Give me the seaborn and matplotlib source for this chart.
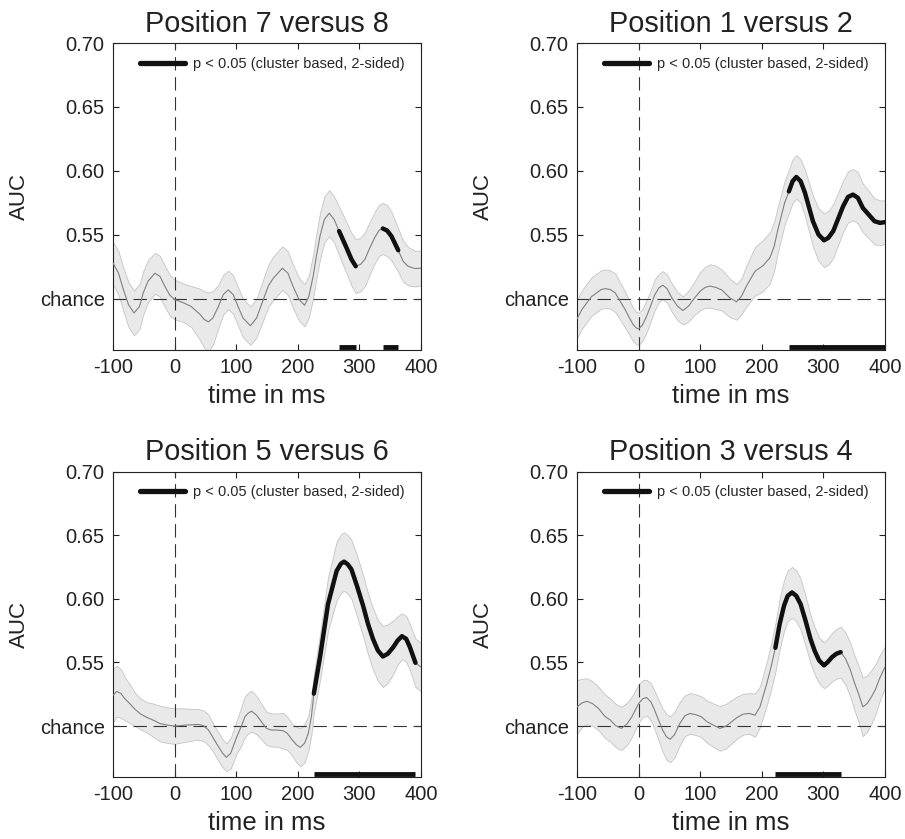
import numpy as np
import seaborn as sns
import matplotlib.pyplot as plt
from matplotlib.lines import Line2D

# ---- data ----
titles = ["Position 7 versus 8", "Position 1 versus 2",
          "Position 5 versus 6", "Position 3 versus 4"]

t_78 = [-100, -91, -83, -75, -66, -57, -51, -43, -32, -24, -16, -8, 0, 14, 27, 41, 48, 55,
        62, 71, 79, 87, 95, 103, 111, 123, 133, 144, 152, 160, 175, 184, 192, 202, 211,
        218, 225, 230, 236, 243, 251, 259, 267, 279, 287, 294, 302, 309, 317, 325, 332,
        338, 345, 352, 363, 371, 379, 390, 400]
auc_78 = [.528, .520, .507, .4956, .489, .494, .5047, .514, .520, .5177, .510, .503, .4995,
          .497, .494, .488, .4839, .482, .485, .494, .5034, .507, .5034, .494, .485, .479,
          .485, .4995, .510, .516, .524, .520, .510, .4995, .495, .502, .518, .533, .549,
          .562, .567, .562, .553, .540, .531, .5255, .527, .531, .540, .548, .5536, .555,
          .5534, .549, .538, .5294, .5255, .5237, .524]
sem_78 = [.0165, .017, .017, .0175, .0175, .0175, .017, .0165, .016, .016, .016, .016, .0155,
          .015, .016, .020, .022, .023, .021, .017, .0155, .015, .015, .015, .015, .015,
          .015, .016, .0165, .017, .017, .017, .017, .0165, .0165, .0165, .017, .0175, .018,
          .018, .018, .018, .019, .02, .0205, .021, .021, .021, .0205, .02, .02, .02, .02,
          .019, .017, .016, .015, .014, .0135]
sig_78 = [(267, 294), (338, 363)]

t_12 = [-100, -92, -84, -76, -68, -61, -54, -46, -38, -30, -22, -15, -9, -4, 0, 6, 13, 20,
        26, 33, 39, 46, 54, 63, 72, 81, 91, 100, 108, 116, 125, 135, 148, 159, 167, 175,
        189, 202, 213, 220, 226, 237, 244, 250, 256, 263, 270, 283, 292, 301, 308, 316,
        332, 340, 348, 356, 364, 383, 392, 400]
auc_12 = [.4844, .4917, .497, .502, .5047, .5073, .508, .5073, .5047, .4982, .4917, .4852,
          .480, .4773, .4766, .4794, .4865, .495, .503, .5086, .5107, .5081, .5008, .4943,
          .4909, .4943, .5008, .506, .509, .510, .509, .507, .5008, .4977, .502, .510,
          .5216, .526, .532, .541, .554, .575, .584, .592, .5953, .592, .583, .5607, .5503,
          .5458, .5477, .553, .5724, .5797, .5815, .579, .5711, .5607, .5594, .560]
sem_12 = [.015, .015, .015, .015, .015, .015, .015, .015, .015, .0145, .014, .0135, .013,
          .0125, .0125, .0125, .0125, .012, .012, .011, .011, .011, .011, .011, .011, .012,
          .013, .015, .016, .017, .017, .016, .015, .014, .014, .016, .019, .02, .02, .019,
          .018, .017, .017, .017, .017, .017, .018, .02, .0205, .021, .021, .021, .02, .02,
          .02, .02, .019, .018, .0175, .017]
sig_12 = [(244, 400)]

t_56 = [-100, -94, -87, -81, -72, -64, -55, -45, -35, -24, -12, 0, 19, 38, 47, 55, 63, 71,
        78, 84, 91, 101, 108, 114, 120, 125, 133, 141, 149, 157, 166, 176, 183, 191, 198,
        204, 211, 217, 222, 226, 236, 249, 263, 270, 275, 281, 287, 296, 306, 314, 322,
        330, 338, 346, 355, 362, 369, 376, 382, 391, 400]
auc_56 = [.5242, .5273, .5255, .5216, .5172, .513, .5094, .5068, .5047, .502, .5008, .500,
          .5008, .5013, .5003, .4969, .4904, .4839, .4786, .4755, .4786, .4917, .4995,
          .5073, .5104, .5117, .5086, .5034, .4982, .4969, .4969, .4964, .4943, .4891,
          .4852, .4833, .4865, .4943, .5073, .5255, .554, .5958, .6219, .6276, .6292,
          .6271, .6232, .6102, .5945, .5802, .5685, .5594, .5547, .5568, .562, .5672,
          .5706, .5685, .562, .5497, .5464]
sem_56 = [.021, .02, .019, .017, .015, .013, .012, .012, .013, .014, .014, .014, .013, .012,
          .012, .012, .011, .011, .011, .011, .012, .013, .015, .016, .016, .016, .015, .014,
          .013, .013, .013, .014, .013, .0125, .014, .015, .015, .014, .014, .015, .018,
          .021, .023, .023, .023, .023, .023, .024, .024, .024, .024, .024, .024, .023,
          .021, .019, .018, .018, .018, .019, .019]
sig_56 = [(226, 391)]

t_34 = [-100, -92, -84, -75, -65, -55, -46, -37, -28, -19, -11, 0, 7, 13, 20, 26, 33, 39,
        45, 51, 58, 67, 75, 83, 92, 102, 111, 121, 132, 142, 151, 160, 170, 180, 189, 197,
        208, 215, 222, 229, 236, 242, 249, 256, 263, 271, 279, 286, 293, 301, 307, 314,
        321, 328, 336, 344, 350, 357, 364, 371, 378, 385, 391, 400]
auc_34 = [.5151, .5182, .5195, .5177, .5138, .5078, .5047, .5003, .4982, .5016, .5073,
          .5177, .5216, .5224, .519, .5125, .5039, .4969, .4917, .4896, .493, .5021, .5081,
          .5099, .5091, .5073, .5034, .5008, .4982, .500, .5034, .5068, .5094, .5099, .5086,
          .5151, .5333, .5464, .5615, .5802, .5945, .6023, .605, .6023, .5958, .5828, .5685,
          .5589, .5516, .5477, .5503, .5542, .5568, .5581, .5529, .5438, .5346, .5255,
          .5151, .5177, .5229, .5294, .5372, .5464]
sem_34 = [.021, .019, .018, .0175, .017, .017, .017, .017, .017, .0165, .016, .015, .0145,
          .014, .0145, .015, .016, .017, .018, .018, .018, .017, .016, .016, .016, .016,
          .0165, .017, .0175, .0175, .017, .0165, .016, .016, .017, .016, .017, .018, .019,
          .02, .02, .02, .02, .02, .02, .0195, .019, .0185, .018, .018, .0185, .019, .0195,
          .02, .0205, .021, .0215, .022, .023, .022, .021, .0195, .018, .016]
sig_34 = [(222, 328)]

panels = [(t_78, auc_78, sem_78, sig_78), (t_12, auc_12, sem_12, sig_12),
          (t_56, auc_56, sem_56, sig_56), (t_34, auc_34, sem_34, sig_34)]

xticks = [-100, 0, 100, 200, 300, 400]
yticks = [0.50, 0.55, 0.60, 0.65, 0.70]
yticklabels = ["chance", "0.55", "0.60", "0.65", "0.70"]

# ---- style ----
sns.set_style("ticks")
plt.rcParams['font.family'] = ['Liberation Sans', 'DejaVu Sans']

fig = plt.figure(figsize=(9.05, 8.39), dpi=100)
positions = [[0.1249, 0.5828, 0.3403, 0.3659], [0.6376, 0.5828, 0.3403, 0.3659],
             [0.1249, 0.0739, 0.3403, 0.3641], [0.6376, 0.0739, 0.3403, 0.3641]]

for pos, title, (t, auc, sem, sig) in zip(positions, titles, panels):
    ax = fig.add_axes(pos)
    t = np.array(t)
    auc = np.array(auc)
    sem = np.array(sem)

    ax.fill_between(t, auc - sem, auc + sem, facecolor='#e9e9e9',
                    edgecolor='#c4c4c4', lw=0.6, zorder=1)
    ax.axhline(0.5, color='#333333', lw=0.8, dashes=(12, 6), zorder=2)
    ax.axvline(0, color='#333333', lw=0.8, dashes=(12, 6), zorder=2)
    sns.lineplot(x=t, y=auc, ax=ax, color='#808080', lw=0.8, zorder=3)
    for start, end in sig:
        m = (t >= start) & (t <= end)
        sns.lineplot(x=t[m], y=auc[m], ax=ax, color='#111111', lw=3.2, zorder=4)
        ax.hlines(0.4625, start, end, color='#111111', lw=3.5, zorder=4)

    ax.set_xlim(-100, 400)
    ax.set_ylim(0.46, 0.70)
    ax.set_xticks(xticks)
    ax.set_xticklabels([str(v) for v in xticks])
    ax.set_yticks(yticks)
    ax.set_yticklabels(yticklabels)
    ax.tick_params(direction='in', length=4, width=0.8, top=True, right=True,
                   labelsize=14.5, pad=6, colors='#222222')
    for s in ax.spines.values():
        s.set_linewidth(0.8)
        s.set_color('#222222')
    ax.set_title(title, fontsize=20.8, pad=8, color='#222222')
    ax.set_xlabel("time in ms", fontsize=18.5, color='#222222', labelpad=5)
    ax.set_ylabel("AUC", fontsize=16, color='#222222', labelpad=7)

    handle = Line2D([], [], color='#111111', lw=3.8)
    ax.legend([handle], ["p < 0.05 (cluster based, 2-sided)"], loc='center left',
              bbox_to_anchor=(0.086, 0.933), frameon=False, borderpad=0,
              borderaxespad=0, handlelength=3.1, handletextpad=0.6, fontsize=10.5)

plt.savefig('out.png', dpi=100)
